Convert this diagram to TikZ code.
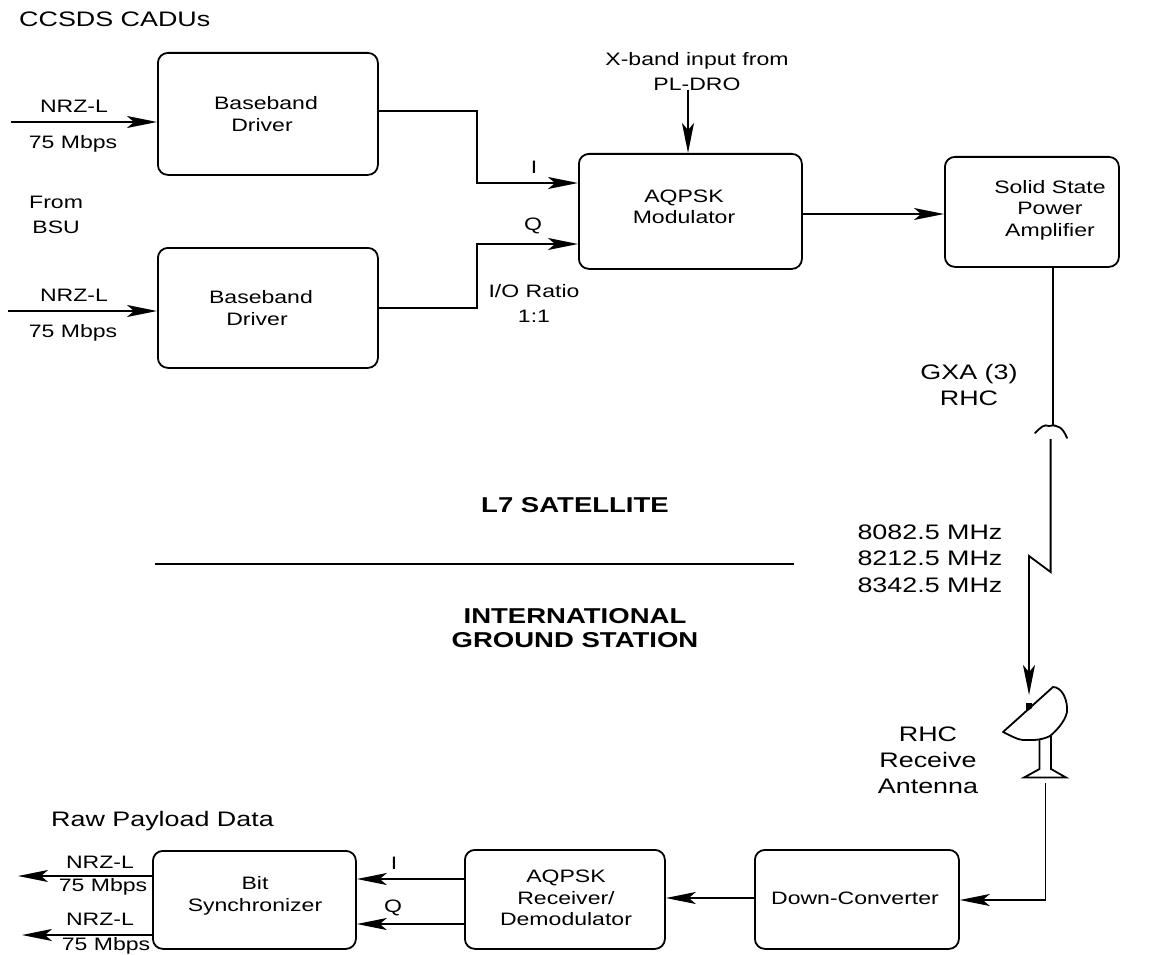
\documentclass[tikz,border=0pt]{standalone}
\usepackage{fontspec}
\setmainfont[FakeStretch=1.28]{Liberation Sans}
\usetikzlibrary{arrows.meta,positioning}
\tikzset{
  block/.style={draw,line width=1.8pt,rounded corners=10pt,inner sep=0pt,anchor=north west},
  boxtext/.style={inner sep=0pt,align=center,font=\fontsize{18}{21.5}\selectfont},
  lbl/.style={inner sep=0pt,align=center,font=\fontsize{18}{25}\selectfont},
  biglbl/.style={inner sep=0pt,align=center,font=\fontsize{21}{26}\selectfont},
  boldlbl/.style={inner sep=0pt,align=center,font=\fontsize{21.5}{23.5}\selectfont\bfseries},
  wire/.style={line width=1.8pt},
  arrow/.style={line width=1.8pt,-{Stealth[length=30pt,width=12pt,inset=7pt]}},
}
\newcommand{\blk}[8]{\node[block,minimum width=#4pt-#2pt,minimum height=#5pt-#3pt] (#1) at (#2,#3) {};
  \node[boxtext] (#1t) at (#6,#7) {#8};}
\begin{document}
\begin{tikzpicture}[x=1pt,y=-1pt]
\useasboundingbox (0,0) rectangle (1151,955);
\blk{bb1}{157}{52}{377}{174}{266}{114}{Baseband\\Driver\hspace*{8pt}}
\blk{bb2}{157}{247}{377}{367}{261}{308}{Baseband\\Driver\hspace*{8pt}}
\blk{mod}{578}{153}{801}{268}{684}{207}{AQPSK\\Modulator}
\blk{sspa}{944}{156}{1118}{266}{1050}{210}{Solid State\\Power\\Amplifier}
\blk{bit}{152}{850}{355}{948}{255}{896}{Bit\\Synchronizer}
\blk{rx}{464}{849}{664}{948}{566}{898}{AQPSK\\Receiver/\\Demodulator}
\blk{dc}{754}{849}{958}{948}{855}{898}{Down-Converter}
% labels
\node[biglbl,anchor=west] (l1) at (19,19) {CCSDS CADUs};
\node[lbl] (l2) at (74,106) {NRZ-L};
\node[lbl] (l3) at (73,144) {75 Mbps};
\node[lbl,anchor=west] (l4) at (29,215) {From\\BSU};
\node[lbl] (l5) at (74,295) {NRZ-L};
\node[lbl] (l6) at (73,333) {75 Mbps};
\node[lbl] (l7) at (534,167) {I};
\node[lbl] (l8) at (533,226) {Q};
\node[lbl] (l9) at (534,303) {I/O Ratio\\1:1};
\node[lbl] (l10) at (697,72) {X-band input from\\PL-DRO};
\node[biglbl] (l11) at (969,385) {GXA (3)\\RHC};
\node[boldlbl] (l12) at (575,505) {L7 SATELLITE};
\node[boldlbl] (l13) at (575,628) {INTERNATIONAL\\GROUND STATION};
\node[biglbl] (l14) at (930,532) {8082.5 MHz};
\node[biglbl] (l15) at (930,558) {8212.5 MHz};
\node[biglbl] (l16) at (930,585) {8342.5 MHz};
\node[biglbl] (l17) at (928,760) {RHC\\Receive\\Antenna};
\node[biglbl,anchor=west] (l18) at (51,821) {Raw Payload Data};
\node[lbl] (l19) at (100,862) {NRZ-L};
\node[lbl] (l20) at (103,887) {75 Mbps};
\node[lbl] (l21) at (100,919) {NRZ-L};
\node[lbl] (l22) at (106,946) {75 Mbps};
\node[lbl] (l23) at (394,863) {I};
\node[lbl] (l24) at (393,908) {Q};
% free ends
\coordinate (in1) at (11,122);
\coordinate (in2) at (8,311);
\coordinate (x1) at (688,90);
\coordinate (out1) at (18,876);
\coordinate (out2) at (22,935);
\coordinate (line1) at (155,564);
\coordinate (line2) at (794,564);
\coordinate (feedtop) at (1053,268);
\coordinate (feedend) at (1053,425);
\coordinate (reflectL) at (1035,433);
\coordinate (reflectR) at (1067,438);
\coordinate (lowtop) at (1050.6,439);
\coordinate (z1) at (1050.6,572);
\coordinate (z2) at (1029,556);
\coordinate (tip) at (1029,695);
\coordinate (ant) at (1045.5,783);
% connectors
\draw[arrow] (in1) -- (bb1.west |- in1);
\draw[arrow] (in2) -- (bb2.west |- in2);
\draw[arrow] (bb1.east |- 0,111) -| (477,183) -- (mod.west |- 0,183);
\draw[arrow] (bb2.east |- 0,308) -| (477,244) -- (mod.west |- 0,244);
\draw[arrow] (x1) -- (mod.north -| x1);
\draw[arrow] (mod.east |- 0,214) -- (sspa.west |- 0,214);
\draw[wire] (feedtop) -- (feedend);
\draw[wire,line cap=round] (reflectL) .. controls (1041,427) and (1044,424) .. (1049,426) .. controls (1058,424) and (1063,428) .. (reflectR);
\draw[arrow] (lowtop) -- (z1) -- (z2) -- (tip);
% antenna
\draw[wire,line join=round] (1003,732) -- (1053,687) .. controls (1062,687) and (1068,700) .. (1067,712) .. controls (1065,722) and (1055,732) .. (1050,736) .. controls (1040,741) and (1030,740) .. (1023,740) .. controls (1015,739) and (1010,735) .. (1003,732) -- cycle;
\fill (1026,703) -- (1032,703) -- (1032,708) -- (1026,712) -- cycle;
\draw[wire,line join=miter] (1039.5,739) -- (1039.5,769) -- (1024,777.5) -- (1066,777.5) -- (1051,769) -- (1051,736);
\draw[arrow] (ant) -- (ant |- 0,900) -- (dc.east |- 0,900);
\draw[arrow] (dc.west |- 0,898) -- (rx.east |- 0,898);
\draw[arrow] (rx.west |- 0,879) -- (bit.east |- 0,879);
\draw[arrow] (rx.west |- 0,924) -- (bit.east |- 0,924);
\draw[arrow] (bit.west |- 0,876) -- (out1);
\draw[arrow] (bit.west |- 0,935) -- (out2);
\draw[wire] (line1) -- (line2);
\end{tikzpicture}
\end{document}
